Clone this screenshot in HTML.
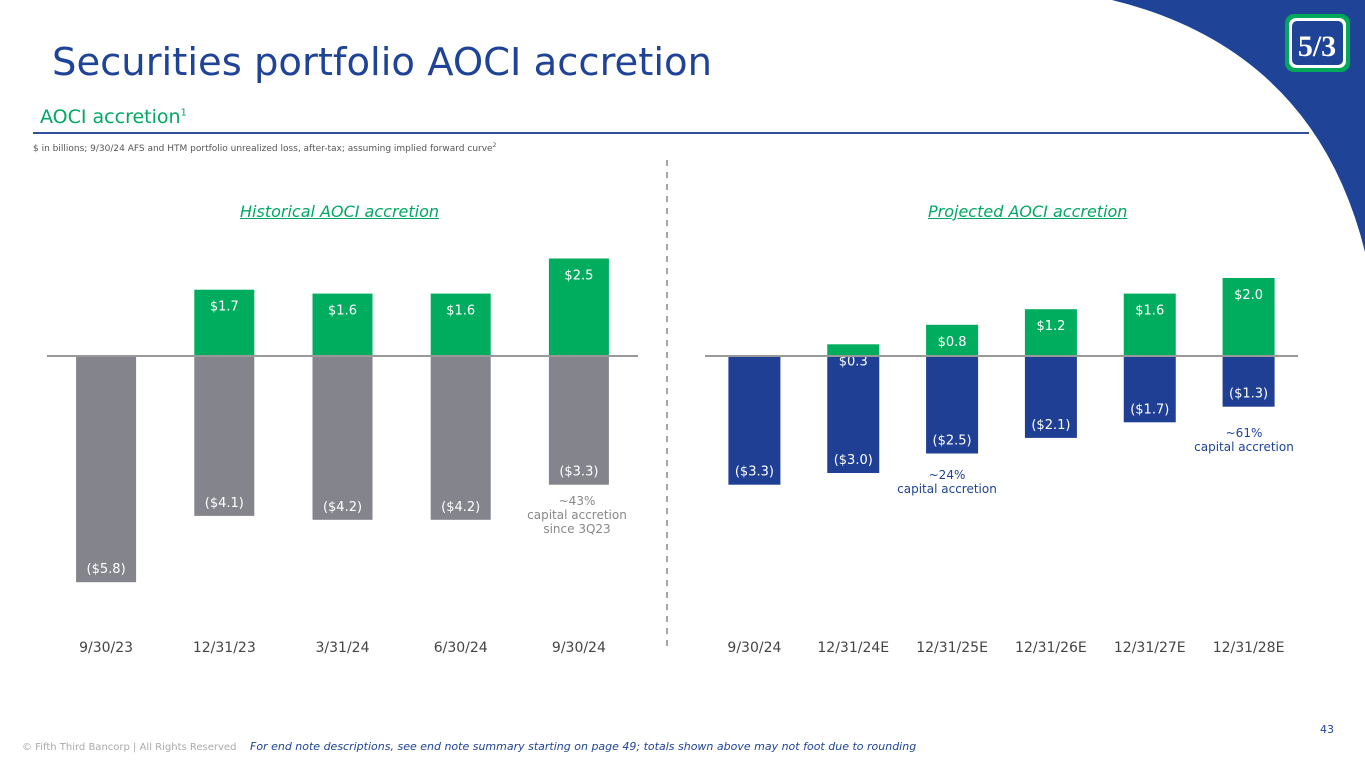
<!DOCTYPE html>
<html><head><meta charset="utf-8">
<style>
body{margin:0;background:#fff;font-family:"DejaVu Sans","Liberation Sans",sans-serif;}
#wrap{position:relative;width:1365px;height:768px;overflow:hidden;background:#fff;}
.abs{position:absolute;white-space:nowrap;}
</style></head>
<body>
<div id="wrap">
<svg width="1365" height="768" style="position:absolute;left:0;top:0">
  <path d="M1112,0 Q1315,50 1365,252 L1365,0 Z" fill="#1e4397"/>
  <g>
    <rect x="1285" y="14" width="65" height="58" rx="9" fill="#00a85a"/>
    <rect x="1289" y="18" width="57" height="50" rx="7" fill="#fff"/>
    <rect x="1292" y="21" width="51" height="44" rx="5" fill="#1e4397"/>
    <text x="1317" y="56" font-family="Liberation Serif,serif" font-weight="bold" font-size="30" fill="#fff" text-anchor="middle">5/3</text>
  </g>
  <line x1="33" y1="133" x2="1309" y2="133" stroke="#2f4f9a" stroke-width="2"/>
  <line x1="667" y1="160" x2="667" y2="652" stroke="#888" stroke-width="1.5" stroke-dasharray="6,6"/>
  <g id="chart"></g>
</svg>
<div class="abs" style="left:52px;top:40px;font-size:38.5px;color:#1e4397">Securities portfolio AOCI accretion</div>
<div class="abs" style="left:40px;top:106px;font-size:19px;color:#00a862">AOCI accretion<sup style="font-size:10px">1</sup></div>
<div class="abs" style="left:33px;top:142px;font-size:9px;color:#555">$ in billions; 9/30/24 AFS and HTM portfolio unrealized loss, after-tax; assuming implied forward curve<sup style="font-size:6px">2</sup></div>
<div class="abs" style="left:240px;top:202px;font-size:16px;color:#00a862;font-style:italic;text-decoration:underline">Historical AOCI accretion</div>
<div class="abs" style="left:928px;top:202px;font-size:16px;color:#00a862;font-style:italic;text-decoration:underline">Projected AOCI accretion</div>
<div class="abs" style="left:512px;top:494px;width:130px;text-align:center;font-size:12px;color:#888;line-height:14px;white-space:normal">~43%<br>capital accretion<br>since 3Q23</div>
<div class="abs" style="left:882px;top:468px;width:130px;text-align:center;font-size:12px;color:#1e4397;line-height:14px;white-space:normal">~24%<br>capital accretion</div>
<div class="abs" style="left:1179px;top:426px;width:130px;text-align:center;font-size:12px;color:#1e4397;line-height:14px;white-space:normal">~61%<br>capital accretion</div>
<div class="abs" style="left:1320px;top:723px;font-size:11px;color:#1e4397">43</div>
<div class="abs" style="left:22px;top:742px;font-size:10px;color:#aaa">© Fifth Third Bancorp | All Rights Reserved</div>
<div class="abs" style="left:250px;top:740px;font-size:11px;color:#1e4397;font-style:italic">For end note descriptions, see end note summary starting on page 49; totals shown above may not foot due to rounding</div>
</div>
<script>
const histCategories=["9/30/23","12/31/23","3/31/24","6/30/24","9/30/24"];
const histNegative=[-5.8,-4.1,-4.2,-4.2,-3.3];
const histPositive=[null,1.7,1.6,1.6,2.5];
const projCategories=["9/30/24","12/31/24E","12/31/25E","12/31/26E","12/31/27E","12/31/28E"];
const projNegative=[-3.3,-3.0,-2.5,-2.1,-1.7,-1.3];
const projPositive=[null,0.3,0.8,1.2,1.6,2.0];

const NS="http://www.w3.org/2000/svg";
const g=document.getElementById('chart');
const baseY=356, unit=39;
const y=v=>baseY-v*unit;
function fmt(v){return v<0?"($"+Math.abs(v).toFixed(1)+")":"$"+v.toFixed(1);}
function mk(tag,attrs){const e=document.createElementNS(NS,tag);for(const k in attrs)e.setAttribute(k,attrs[k]);g.appendChild(e);return e;}
function panel(cats,neg,pos,x0,x1,bw,negColor,prefix){
  const step=(x1-x0)/cats.length;
  const cx=i=>x0+step*(i+0.5);
  cats.forEach((c,i)=>{
    const n=neg[i];
    const r=mk('rect',{x:cx(i)-bw/2,y:baseY,width:bw,height:y(n)-baseY,fill:negColor});
    
    
    const t=mk('text',{x:cx(i),y:y(n)-9,fill:'#fff','font-size':13,'text-anchor':'middle'});
    t.textContent=fmt(n);
    
    
    const p=pos[i];
    if(p!=null){
      const b=mk('rect',{x:cx(i)-bw/2,y:y(p),width:bw,height:baseY-y(p),fill:'#00ad5f'});
      
      
      const pt=mk('text',{x:cx(i),y:y(p)+21,fill:'#fff','font-size':13,'text-anchor':'middle'});
      pt.textContent=fmt(p);
      
      
    }
    const ct=mk('text',{x:cx(i),y:652,fill:'#444','font-size':14,'text-anchor':'middle'});
    ct.textContent=c;
    
    
  });
  const l=mk('line',{x1:x0,y1:baseY,x2:x1,y2:baseY,stroke:'#999','stroke-width':2});
  
  
}
panel(histCategories,histNegative,histPositive,47,638,60,'#84858c','hist');
panel(projCategories,projNegative,projPositive,705,1298,52,'#1e3f93','proj');
</script>
</body></html>
